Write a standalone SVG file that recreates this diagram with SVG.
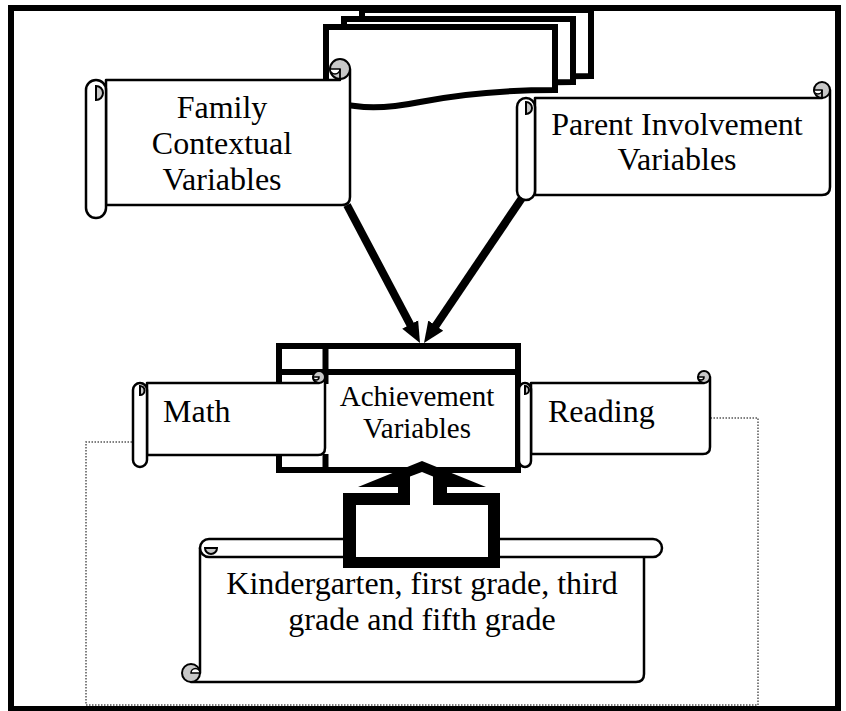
<svg xmlns="http://www.w3.org/2000/svg" width="846" height="711" viewBox="0 0 846 711">
<defs>
<style>
.frame{fill:none;stroke:#000;stroke-width:6}
.doc{fill:#fff;stroke:#000;stroke-width:6;stroke-linejoin:miter}
.thick{fill:#fff;stroke:#000;stroke-width:6}
.tline{stroke:#000;stroke-width:6;fill:none}
.scroll{fill:#fff;stroke:#000;stroke-width:2.5;stroke-linejoin:round}
.curl{fill:#c8c8c8;stroke:#000;stroke-width:2}
.notch{fill:#fff;stroke:#000;stroke-width:1.5}
.thin{stroke:#000;stroke-width:1.8;fill:none}
.dot{fill:none;stroke:#555;stroke-width:1.5;stroke-dasharray:1.5 1.5}
.conn{fill:none;stroke:#000;stroke-width:8}
.t{font-family:"Liberation Serif","Times New Roman",serif;font-size:32px;fill:#000}
.m{text-anchor:middle}
</style>
<marker id="ah" markerUnits="userSpaceOnUse" markerWidth="22" markerHeight="20" refX="1" refY="10" orient="auto">
<path d="M0,1 L21,10 L0,19 Z" fill="#000"/>
</marker>
</defs>
<rect class="frame" x="11" y="8" width="827" height="701"/>
<g id="connectors">
<path class="dot" d="M132,442 H86 V705 H758 V418 H711"/>
</g>
<g id="stack">
<path class="doc" d="M362,10 H591 V76 C536,76 486,82 456,88 C431,93 411,95 391,92 C381,91 371,89 362,87 Z"/>
<path class="doc" d="M344,19 H573 V82 C518,82 468,88 438,94 C413,99 393,101 373,98 C363,97 353,95 344,93 Z"/>
<path class="doc" d="M326,27 H555 V90 C500,90 450,96 420,102 C395,107 375,109 355,106 C345,105 335,103 326,101 Z"/>
</g>
<g id="family">
<path class="scroll" d="M106,80 H340 V69 H350 V197 Q350,205 342,205 H106 Z"/>
<rect class="scroll" x="86" y="80" width="20" height="138" rx="10"/>
<path class="curl" d="M96,86 A7,7 0 0 1 96,100 Z"/>
<circle class="curl" cx="340" cy="69" r="10"/>
<path class="notch" d="M330,69 A5,5 0 0 0 340,69 Z"/>
<line class="thin" x1="340" y1="69" x2="340" y2="80"/>
<text class="t m" x="222" y="118">Family</text>
<text class="t m" x="222" y="154">Contextual</text>
<text class="t m" x="222" y="190">Variables</text>
</g>
<g id="parent">
<path class="scroll" d="M535,98 H822 V90 H830 V187 Q830,195 822,195 H535 Z"/>
<rect class="scroll" x="517" y="98" width="18" height="102" rx="9"/>
<path class="curl" d="M526,102 A6,6 0 0 1 526,114 Z"/>
<circle class="curl" cx="822" cy="90" r="8"/>
<path class="notch" d="M814,90 A4,4 0 0 0 822,90 Z"/>
<line class="thin" x1="822" y1="90" x2="822" y2="98"/>
<text class="t m" x="677" y="135">Parent Involvement</text>
<text class="t m" x="677" y="170">Variables</text>
</g>
<g id="achievement">
<rect class="thick" x="279" y="346" width="239" height="124"/>
<line class="tline" x1="279" y1="372" x2="518" y2="372"/>
<line class="tline" x1="325.5" y1="346" x2="325.5" y2="384"/>
<line class="tline" x1="325.5" y1="454" x2="325.5" y2="470"/>
<text class="t m" x="417" y="406" style="font-size:29px">Achievement</text>
<text class="t m" x="417" y="438" style="font-size:29px">Variables</text>
</g>
<g id="math">
<path class="scroll" d="M147,383 H319 V377 H325 V448 Q325,455 318,455 H147 Z"/>
<rect class="scroll" x="133" y="383" width="14" height="84" rx="7"/>
<path class="curl" d="M140,386 A4.5,4.5 0 0 1 140,395 Z"/>
<circle class="curl" cx="319" cy="377" r="6"/>
<path class="notch" d="M313,377 A3,3 0 0 0 319,377 Z"/>
<text class="t" x="163" y="422">Math</text>
</g>
<g id="reading">
<path class="scroll" d="M531,383 H704 V377 H710 V447 Q710,454 703,454 H531 Z"/>
<rect class="scroll" x="519" y="383" width="12" height="84" rx="6"/>
<path class="curl" d="M525,386 A4,4 0 0 1 525,394 Z"/>
<circle class="curl" cx="704" cy="377" r="6"/>
<path class="notch" d="M698,377 A3,3 0 0 0 704,377 Z"/>
<text class="t" x="548" y="422">Reading</text>
</g>
<g id="grades">
<path class="scroll" d="M200,548 H644 V674 Q644,682 636,682 H191 V673 H200 Z"/>
<rect class="scroll" x="200" y="539" width="462" height="18" rx="9"/>
<path class="curl" d="M205,548 A6,6 0 0 0 217,548 Z"/>
<circle class="curl" cx="191" cy="673" r="9"/>
<path class="notch" d="M191,673 A4.5,4.5 0 0 1 200,673 Z"/>
<text class="t m" x="422" y="594">Kindergarten, first grade, third</text>
<text class="t m" x="422" y="630">grade and fifth grade</text>
</g>
<g id="callout">
<path fill="#000" d="M422,461 L486,487 L447,487 L447,493 L500,493 L500,568 L343,568 L343,493 L398,493 L398,487 L358,487 Z"/>
<path fill="#fff" d="M422,472 L433,476.5 L433,505 L488,505 L488,557 L356,557 L356,505 L410,505 L410,476.5 Z"/>
</g>
<g id="arrows">
<line class="conn" x1="347" y1="205" x2="410.65" y2="325.32" marker-end="url(#ah)"/>
<line class="conn" x1="522" y1="198" x2="435.2" y2="326.43" marker-end="url(#ah)"/>
</g>
</svg>
